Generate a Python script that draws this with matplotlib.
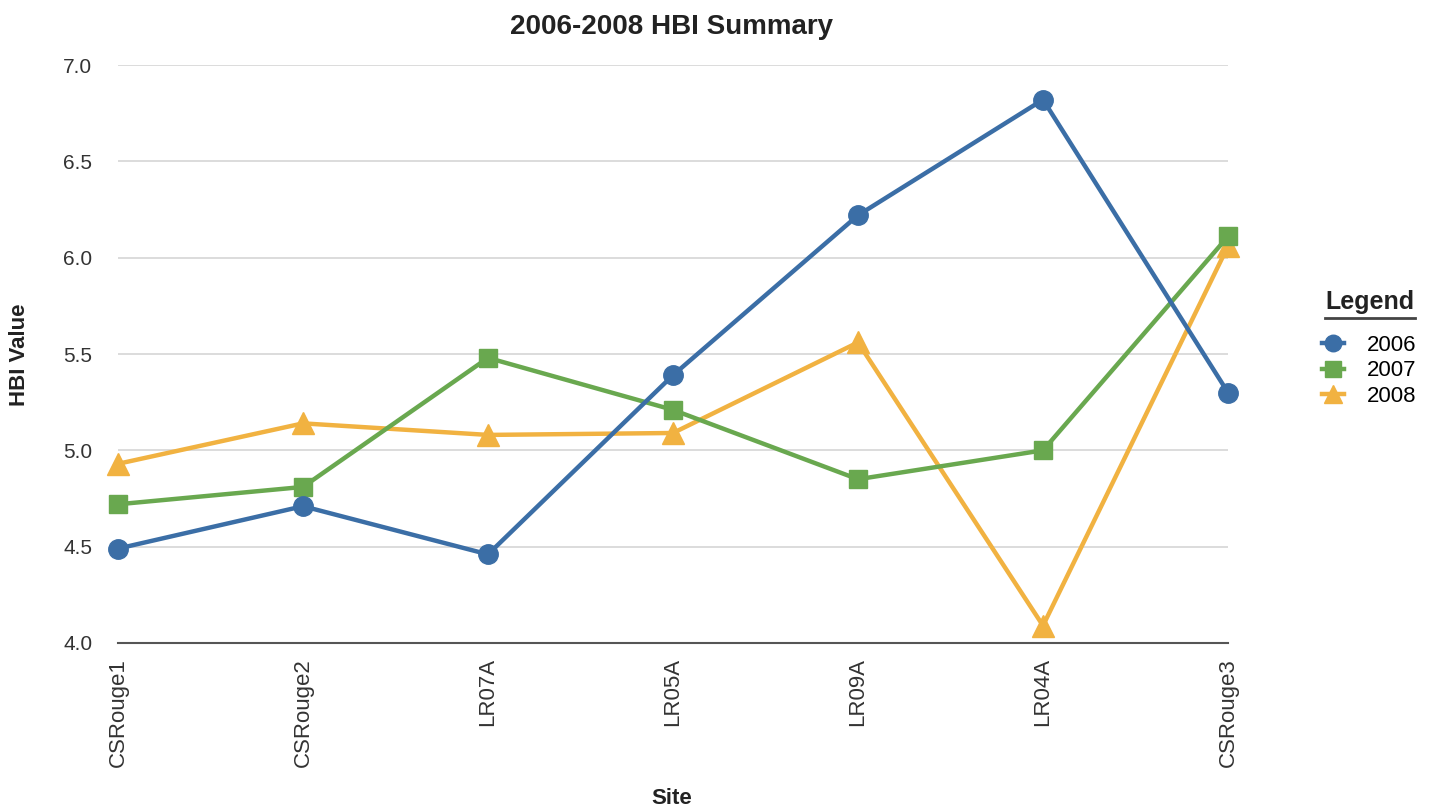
import matplotlib.pyplot as plt
from matplotlib.lines import Line2D

plt.rcParams['font.family'] = ['Liberation Sans', 'DejaVu Sans']

sites = ['CSRouge1', 'CSRouge2', 'LR07A', 'LR05A', 'LR09A', 'LR04A', 'CSRouge3']
hbi_2006 = [4.49, 4.71, 4.46, 5.39, 6.22, 6.82, 5.30]
hbi_2007 = [4.72, 4.81, 5.48, 5.21, 4.85, 5.00, 6.11]
hbi_2008 = [4.93, 5.14, 5.08, 5.09, 5.56, 4.09, 6.06]

W, H = 1433, 810
fig = plt.figure(figsize=(W / 100, H / 100), dpi=100)
ax = fig.add_axes([118 / W, 1 - 643 / H, (1228 - 118) / W, (643 - 65) / H])

x = list(range(len(sites)))
ax.plot(x, hbi_2006, color='#3b6ea6', lw=3.2, marker='o', ms=14, clip_on=False, zorder=5, label='2006')
ax.plot(x, hbi_2007, color='#69a84f', lw=3.2, marker='s', ms=13, clip_on=False, zorder=4, label='2007')
ax.plot(x, hbi_2008, color='#f1b241', lw=3.2, marker='^', ms=16, clip_on=False, zorder=3, label='2008')

ax.set_xlim(0, 6)
ax.set_ylim(4.0, 7.0)
ax.set_yticks([4.0, 4.5, 5.0, 5.5, 6.0, 6.5, 7.0])
ax.set_yticklabels(['%.1f' % v for v in ax.get_yticks()], fontsize=15, color='#333333')
ax.set_xticks(x)
ax.set_xticklabels(sites, rotation=90, fontsize=16, color='#333333')
ax.tick_params(length=0, pad=11)
ax.tick_params(axis='y', pad=18.5)
ax.grid(axis='y', color='#d9d9d9', lw=1.3)
ax.set_axisbelow(True)
for s in ['top', 'right', 'left']:
    ax.spines[s].set_visible(False)
ax.spines['bottom'].set_color('#555555')
ax.spines['bottom'].set_linewidth(1.5)

fig.text(671 / W, 1 - 27 / H, '2006-2008 HBI Summary', ha='center', va='center',
         fontsize=20, fontweight='bold', color='#222222')
fig.text(672 / W, 1 - 798 / H, 'Site', ha='center', va='center', fontsize=16, fontweight='bold', color='#222222')
fig.text(20 / W, 1 - 355 / H, 'HBI Value', ha='center', va='center', rotation=90,
         fontsize=16, fontweight='bold', color='#222222')

# legend with underlined title
fig.text(1325 / W, 1 - 302 / H, 'Legend', ha='left', va='center', fontsize=18, fontweight='bold', color='#222222')
fig.add_artist(Line2D([1325 / W, 1415 / W], [1 - 318 / H, 1 - 318 / H], color='#444444', lw=2))
fig.legend(loc='upper left', bbox_to_anchor=(1302 / W, 1 - 315 / H), frameon=False, fontsize=16,
           handlelength=1.0, handletextpad=1.0, labelspacing=0.2, markerscale=0.85)

fig.savefig('out.png', dpi=100)
